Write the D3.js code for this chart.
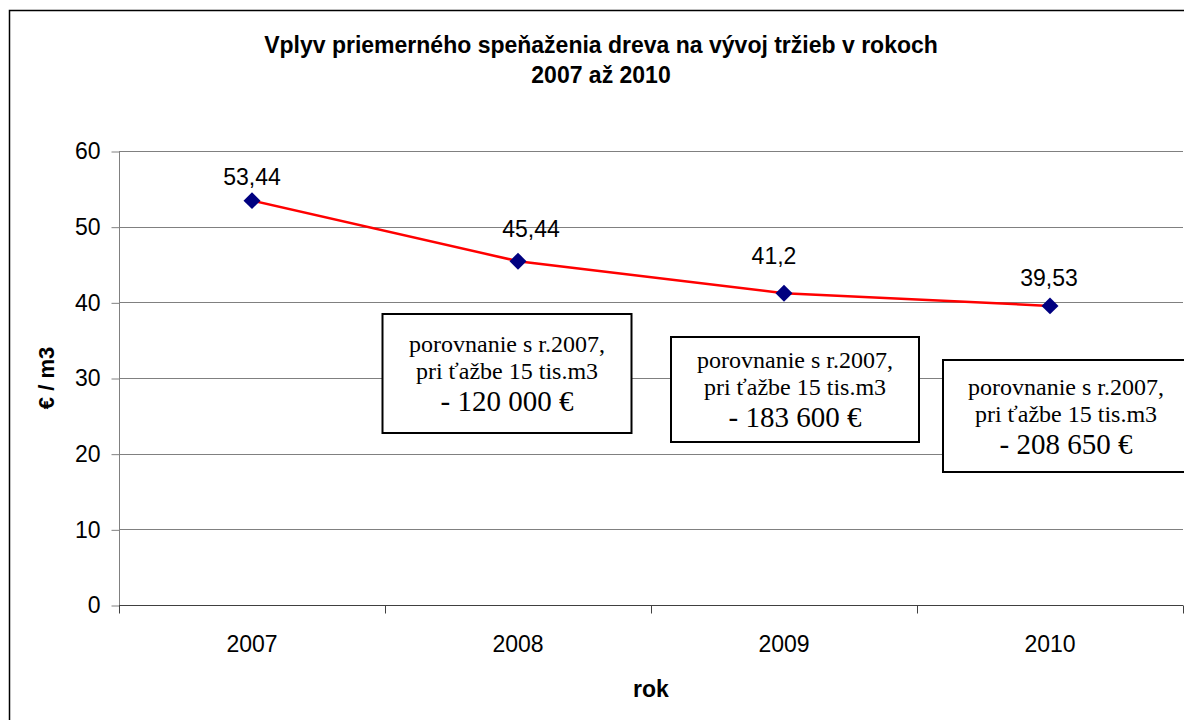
<!DOCTYPE html>
<html>
<head>
<meta charset="utf-8">
<script src="https://cdn.jsdelivr.net/npm/d3@7"></script>
<style>
  body { margin: 0; background: #fff; }
  svg { display: block; font-family: "Liberation Sans", Arial, sans-serif; }
</style>
</head>
<body>
<svg width="1184" height="720"></svg>
<script>
// data
var years = ["2007", "2008", "2009", "2010"];
var prices = [53.44, 45.44, 41.2, 39.53];
var priceLabels = ["53,44", "45,44", "41,2", "39,53"];
var yTicks = [0, 10, 20, 30, 40, 50, 60];
var titleLines = ["Vplyv priemerného speňaženia dreva na vývoj tržieb v rokoch", "2007 až 2010"];
var noteYears = ["2008", "2009", "2010"];
var noteLoss = ["- 120 000 €", "- 183 600 €", "- 208 650 €"];
var noteText = ["porovnanie s r.2007,", "pri ťažbe 15 tis.m3"];

var svg = d3.select("svg"),
    width = +svg.attr("width"),
    height = +svg.attr("height");

var plotLeft = 119, plotRight = 1183, plotTop = 151, plotBottom = 605;

// outer chart border (runs off the right / bottom edge)
svg.append("rect")
  .attr("x", 9.5).attr("y", 10.5)
  .attr("width", width + 20).attr("height", height + 20)
  .attr("fill", "#fff").attr("stroke", "#000").attr("stroke-width", 1.5);

var x = d3.scaleBand()
  .domain(years)
  .range([plotLeft, plotRight])
  .paddingInner(0).paddingOuter(0);

var y = d3.scaleLinear()
  .domain([0, 60])
  .range([plotBottom, plotTop]);

// gridlines
svg.append("g")
  .selectAll("line")
  .data(yTicks.filter(function(d) { return d > 0; }))
  .enter().append("line")
  .attr("x1", plotLeft).attr("x2", plotRight)
  .attr("y1", function(d) { return Math.round(y(d)) + 0.5; })
  .attr("y2", function(d) { return Math.round(y(d)) + 0.5; })
  .attr("stroke", "#808080").attr("stroke-width", 1);

// y axis
var yAxis = svg.append("g")
  .attr("transform", "translate(" + (plotLeft + 0.5) + ",0.5)")
  .call(d3.axisLeft(y).tickValues(yTicks).tickSize(8).tickPadding(11).tickFormat(d3.format("d")));
yAxis.select(".domain").attr("stroke", "#808080").attr("d", "M0," + plotTop + "V" + plotBottom);
yAxis.selectAll(".tick line").attr("stroke", "#808080");
yAxis.selectAll("text")
  .attr("font-size", 23).attr("font-family", "Liberation Sans, Arial, sans-serif").attr("fill", "#000");

// x axis
var xAxis = svg.append("g")
  .attr("transform", "translate(0," + (plotBottom + 0.5) + ")")
  .call(d3.axisBottom(x).tickSize(0).tickPadding(30));
xAxis.select(".domain").attr("stroke", "#404040").attr("d", "M" + plotLeft + ",0H" + plotRight);
xAxis.selectAll("text")
  .attr("font-size", 23).attr("font-family", "Liberation Sans, Arial, sans-serif").attr("fill", "#000");

// category boundary ticks
xAxis.append("g")
  .selectAll("line")
  .data(years.concat(["end"]))
  .enter().append("line")
  .attr("x1", function(d, i) { return Math.round(plotLeft + i * x.bandwidth()) + 0.5; })
  .attr("x2", function(d, i) { return Math.round(plotLeft + i * x.bandwidth()) + 0.5; })
  .attr("y1", 0).attr("y2", 8)
  .attr("stroke", "#404040");

// annotation boxes
var noteLayout = [
  { dx: -11, top: 314, w: 249, h: 119 },
  { dx: 11, top: 337, w: 248, h: 105 },
  { dx: 16, top: 360, w: 246, h: 112 }
];
var notes = svg.append("g")
  .selectAll("g")
  .data(noteYears)
  .enter().append("g")
  .attr("transform", function(d, i) {
    var cx = x(d) + x.bandwidth() / 2 + noteLayout[i].dx;
    return "translate(" + cx + "," + noteLayout[i].top + ")";
  });
notes.append("rect")
  .attr("x", function(d, i) { return -noteLayout[i].w / 2; })
  .attr("y", 0)
  .attr("width", function(d, i) { return noteLayout[i].w; })
  .attr("height", function(d, i) { return noteLayout[i].h; })
  .attr("fill", "#fff").attr("stroke", "#000").attr("stroke-width", 2);
notes.each(function(d, i) {
  var g = d3.select(this);
  var lay = noteLayout[i];
  var off = (lay.h - 105) / 2;
  g.append("text").attr("y", 31 + off).attr("font-size", 24).text(noteText[0]);
  g.append("text").attr("y", 58 + off).attr("font-size", 24).text(noteText[1]);
  g.append("text").attr("y", 90 + off).attr("font-size", 29).text(noteLoss[i]);
});
notes.selectAll("text")
  .attr("text-anchor", "middle")
  .attr("font-family", "Liberation Serif, 'Times New Roman', serif")
  .attr("fill", "#000");

// line
var line = d3.line()
  .x(function(d, i) { return x(years[i]) + x.bandwidth() / 2; })
  .y(function(d) { return y(d); });

svg.append("path")
  .datum(prices)
  .attr("d", line)
  .attr("fill", "none")
  .attr("stroke", "#ff0000")
  .attr("stroke-width", 2.5);

// markers
svg.append("g")
  .selectAll("path")
  .data(prices)
  .enter().append("path")
  .attr("d", d3.symbol().type(d3.symbolSquare).size(144))
  .attr("transform", function(d, i) {
    return "translate(" + (x(years[i]) + x.bandwidth() / 2) + "," + y(d) + ") rotate(45)";
  })
  .attr("fill", "#000080");

// value labels (hand-placed in the original, so each has its own nudge)
var labelNudge = [[0, -16], [13, -24], [-10, -29], [-1, -20]];
svg.append("g")
  .selectAll("text")
  .data(prices)
  .enter().append("text")
  .attr("x", function(d, i) { return x(years[i]) + x.bandwidth() / 2 + labelNudge[i][0]; })
  .attr("y", function(d, i) { return y(d) + labelNudge[i][1]; })
  .attr("text-anchor", "middle")
  .attr("font-size", 23)
  .text(function(d, i) { return priceLabels[i]; });

// title
svg.append("g")
  .selectAll("text")
  .data(titleLines)
  .enter().append("text")
  .attr("x", 601)
  .attr("y", function(d, i) { return 53 + i * 30; })
  .attr("text-anchor", "middle")
  .attr("font-size", 23)
  .attr("font-weight", "bold")
  .text(function(d) { return d; });

// axis titles
svg.append("text")
  .attr("transform", "translate(54," + ((plotTop + plotBottom) / 2) + ") rotate(-90)")
  .attr("text-anchor", "middle")
  .attr("font-size", 22)
  .attr("font-weight", "bold")
  .text("€ / m3");

svg.append("text")
  .attr("x", (plotLeft + plotRight) / 2)
  .attr("y", 697)
  .attr("text-anchor", "middle")
  .attr("font-size", 23)
  .attr("font-weight", "bold")
  .text("rok");
</script>
</body>
</html>
